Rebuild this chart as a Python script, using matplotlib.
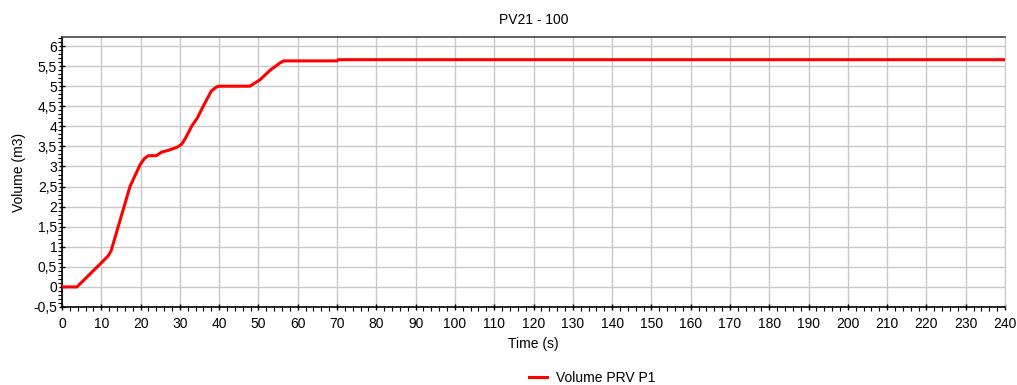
import matplotlib
matplotlib.use("Agg")
from matplotlib import pyplot as plt
from matplotlib.ticker import MultipleLocator, FuncFormatter

plt.rcParams['font.family'] = ['Liberation Sans', 'DejaVu Sans']

# Volume PRV P1
time_s = [0, 3.8, 10, 11.8, 12.5, 14.3, 17.3, 19.9, 21, 22, 24, 25.4, 27, 29.3,
          30.5, 31.4, 33.1, 34.4, 36.1, 38.0, 39.3, 40, 47.8, 50.4, 53, 55.5,
          56.4, 70, 70.3, 240]
volume_m3 = [0, 0, 0.6, 0.78, 0.9, 1.5, 2.5, 3.05, 3.2, 3.27, 3.27, 3.36, 3.4, 3.48,
             3.56, 3.7, 4.02, 4.2, 4.53, 4.88, 4.98, 5.0, 5.0, 5.16, 5.4, 5.58,
             5.63, 5.63, 5.66, 5.66]

title = "PV21 - 100"
series_label = "Volume PRV P1"

fig = plt.figure(figsize=(10.17, 3.85), dpi=100)
ax = fig.add_axes([62 / 1017, 1 - 307 / 385, (1005 - 62) / 1017, (307 - 37) / 385])

ax.plot(time_s, volume_m3, color='#ff0000', lw=2.2, label=series_label, zorder=3)

ax.set_xlim(0, 240)
ax.set_ylim(-0.5, 6.225)
ax.xaxis.set_major_locator(MultipleLocator(10))
ax.xaxis.set_minor_locator(MultipleLocator(2))
ax.yaxis.set_major_locator(MultipleLocator(0.5))
ax.yaxis.set_minor_locator(MultipleLocator(0.1))

def comma_fmt(v, pos):
    s = f"{v:g}"
    if s == "-0":
        s = "0"
    return s.replace('.', ',')

ax.yaxis.set_major_formatter(FuncFormatter(comma_fmt))
ax.grid(True, which='major', color='#c8c8c8', lw=1.0)
ax.set_axisbelow(True)

ax.tick_params(axis='both', which='major', labelsize=10, length=5, width=1,
               color='black', direction='inout', pad=1)
ax.tick_params(axis='x', which='major', pad=5)
ax.tick_params(axis='both', which='minor', length=3, width=0.8, direction='out')
for side in ('left', 'bottom'):
    ax.spines[side].set_color('black')
    ax.spines[side].set_linewidth(1.2)
ax.spines['top'].set_color('#444444')
ax.spines['top'].set_linewidth(1.2)
ax.spines['right'].set_color('#c8c8c8')

ax.set_title(title, fontsize=10, pad=9)
ax.set_xlabel("Time (s)", fontsize=10, labelpad=4)
ax.set_ylabel("Volume (m3)", fontsize=10, labelpad=5)

fig.legend(loc='center', bbox_to_anchor=(592 / 1017, 1 - 378 / 385), frameon=False,
           fontsize=10, handlelength=1.3, handletextpad=0.6)

fig.savefig("out.png", dpi=100)
